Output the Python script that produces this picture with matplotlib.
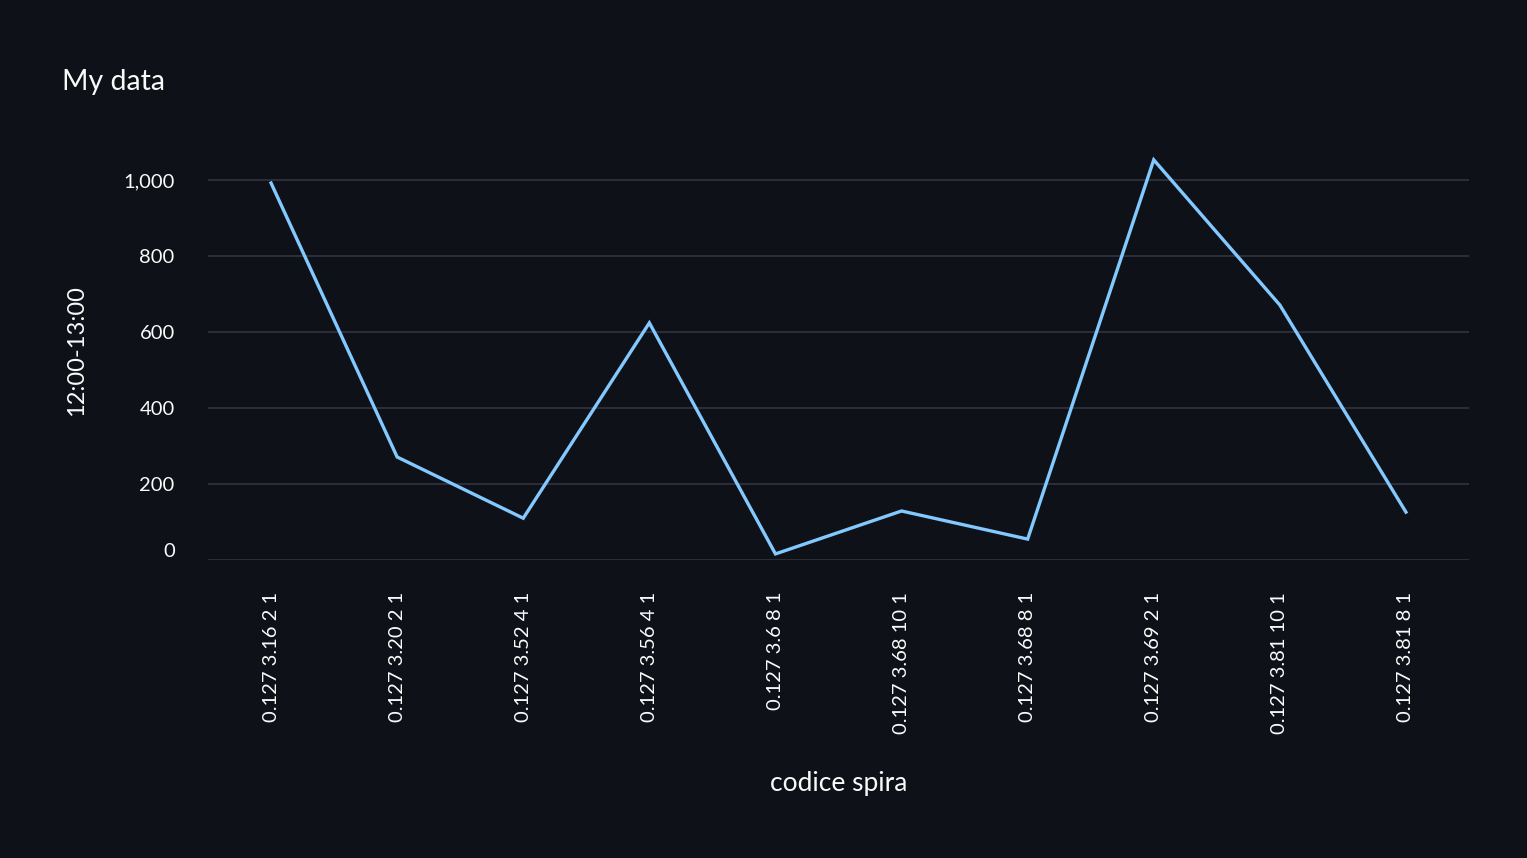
import matplotlib
matplotlib.use("Agg")
import matplotlib.pyplot as plt
from matplotlib.ticker import FuncFormatter

# values
codici = ["0.127 3.16 2 1", "0.127 3.20 2 1", "0.127 3.52 4 1", "0.127 3.56 4 1",
          "0.127 3.6 8 1", "0.127 3.68 10 1", "0.127 3.68 8 1", "0.127 3.69 2 1",
          "0.127 3.81 10 1", "0.127 3.81 8 1"]
valori = [992, 271, 110, 624, 16, 129, 55, 1053, 671, 126]
y_ticks = [0, 200, 400, 600, 800, 1000]

bg = "#0e1117"
fg = "#fafafa"
grid_col = "#31333f"
line_col = "#83c9ff"

plt.rcParams['font.family'] = ['Lato', 'DejaVu Sans']

fig = plt.figure(figsize=(15.27, 8.58), dpi=100, facecolor=bg)
ax = fig.add_axes([208/1527, 1 - 560/858, (1469-208)/1527, (560-142)/858])
ax.set_facecolor(bg)

x = list(range(len(codici)))
ax.plot(x, valori, color=line_col, linewidth=2.4, solid_joinstyle='miter')

ax.set_xlim(-0.5, len(codici) - 0.5)
ax.set_ylim(0, 1100)
ax.set_yticks(y_ticks)
ax.yaxis.set_major_formatter(FuncFormatter(lambda v, p: f"{int(v):,}"))
ax.set_xticks(x)
ax.set_xticklabels(codici, rotation=90, ha='center', va='top')

ax.grid(axis='y', color=grid_col, linewidth=1.2)
ax.set_axisbelow(True)
for s in ax.spines.values():
    s.set_visible(False)
ax.tick_params(axis='both', length=0, colors=fg, labelsize=14.5)
ax.tick_params(axis='y', pad=24)
ax.tick_params(axis='x', pad=23)

# the zero label sits just above its gridline, as in the original
for lbl in ax.get_yticklabels():
    if lbl.get_text() == "0":
        lbl.set_verticalalignment('bottom')

ax.set_xlabel("codice spira", color=fg, fontsize=19, labelpad=27)
ax.set_ylabel("12:00-13:00", color=fg, fontsize=17, labelpad=26)

fig.text(62/1527, 1 - 82/858, "My data", color=fg, fontsize=20.5, va='center', ha='left')

fig.savefig("out.png", facecolor=bg)
